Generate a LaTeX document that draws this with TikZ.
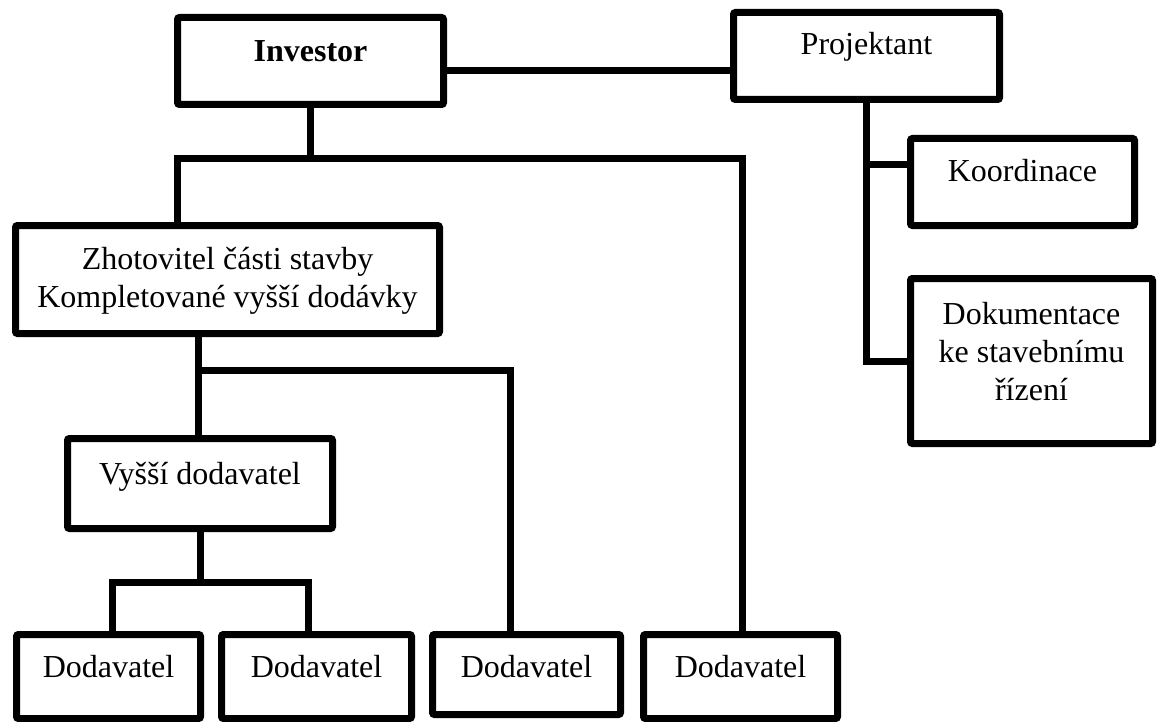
\documentclass[tikz,border=0pt]{standalone}
\usepackage{fontspec}
\setmainfont{Liberation Serif}
\begin{document}
\begin{tikzpicture}[x=1pt, y=-1pt,
  box/.style={draw=black, line width=7pt, rounded corners=2pt, fill=white,
              inner sep=0pt, anchor=center},
  lbl/.style={anchor=base, inner sep=0pt, align=center,
              font=\fontsize{32}{38}\selectfont},
  link/.style={draw=black, line width=7pt, line join=miter}]

% page
\fill[white] (0,0) rectangle (1158,722);
\useasboundingbox (0,0) rectangle (1158,722);

% boxes (centre, path size)
\node[box, minimum width=266pt, minimum height=87pt]  (inv)   at (310.5,61)   {};
\node[box, minimum width=266pt, minimum height=87pt]  (proj)  at (866.5,56)   {};
\node[box, minimum width=224pt, minimum height=87pt]  (koord) at (1022.5,182) {};
\node[box, minimum width=242pt, minimum height=165pt] (dok)   at (1031.5,361) {};
\node[box, minimum width=424pt, minimum height=108pt] (zhot)  at (227.5,279.5){};
\node[box, minimum width=265pt, minimum height=90pt]  (vyssi) at (200,483.5)  {};
\node[box, minimum width=184pt, minimum height=84pt]  (d1)    at (108.5,676.5){};
\node[box, minimum width=190pt, minimum height=84pt]  (d2)    at (316.5,676.5){};
\node[box, minimum width=188pt, minimum height=80pt]  (d3)    at (526.5,674.5){};
\node[box, minimum width=194pt, minimum height=84pt]  (d4)    at (740.5,676.5){};

% labels (base anchor = baseline of the last line)
\node[lbl, font=\fontsize{32}{38}\selectfont\bfseries] (inv-t) at (310.5,62) {Investor};
\node[lbl] (proj-t)  at (866.5,55)  {Projektant};
\node[lbl] (koord-t) at (1022.5,182) {Koordinace};
\node[lbl] (dok-t)   at (1031.5,400) {Dokumentace\\ke stavebnímu\\řízení};
\node[lbl] (zhot-t)  at (227.5,307)  {Zhotovitel části stavby\\Kompletované vyšší dodávky};
\node[lbl] (vyssi-t) at (200,484)    {Vyšší dodavatel};
\node[lbl] (d1-t)    at (108.5,677)  {Dodavatel};
\node[lbl] (d2-t)    at (316.5,677)  {Dodavatel};
\node[lbl] (d3-t)    at (526.5,677)  {Dodavatel};
\node[lbl] (d4-t)    at (740.5,677)  {Dodavatel};

% junction coordinates
\coordinate (ip)    at (0,71);
\coordinate (busL)  at (177,159);
\coordinate (busR)  at (742,159);
\coordinate (bus2L) at (198,370);
\coordinate (bus2R) at (510,370);
\coordinate (bus3L) at (112,582);
\coordinate (bus3R) at (308,582);
\coordinate (pk)    at (0,165);

% connectors
\draw[link] (inv.east |- ip) -- (proj.west |- ip);
\draw[link] (inv.south) -- (inv.south |- busL);
\draw[link] (zhot.north -| busL) -- (busL) -- (busR) -- (d4.north -| busR);
\draw[link] (zhot.south -| bus2L) -- (vyssi.north -| bus2L);
\draw[link] (bus2L) -- (bus2R) -- (d3.north -| bus2R);
\draw[link] (vyssi.south) -- (vyssi.south |- bus3L);
\draw[link] (d1.north -| bus3L) -- (bus3L) -- (bus3R) -- (d2.north -| bus3R);
\draw[link] (proj.south) -- (proj.south |- dok.west) -- (dok.west);
\draw[link] (proj.south |- pk) -- (koord.west |- pk);

\end{tikzpicture}
\end{document}
